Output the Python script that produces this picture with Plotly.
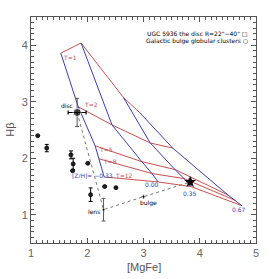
import plotly.graph_objects as go

# ---- data ----
ages = ["T=1", "T=2", "T=5", "T=8", "T=12"]
metals = ["-0.33", "0.00", "0.35", "0.67"]
# model grid: rows = metallicity, cols = age
grid_mgfe = [
    [1.53, 1.84, 2.14, 2.21, 2.30],
    [1.89, 2.44, 2.97, 3.15, 3.26],
    [2.64, 3.12, 3.56, 3.72, 3.84],
    [2.94, 3.52, 4.50, 4.64, 4.75],
]
grid_hb = [
    [3.86, 2.91, 2.22, 1.99, 1.67],
    [4.04, 2.59, 1.94, 1.73, 1.58],
    [3.08, 2.27, 1.80, 1.64, 1.50],
    [2.80, 2.18, 1.35, 1.25, 1.16],
]

gc_mgfe = [1.12, 1.28, 1.71, 1.75, 1.74, 2.01, 2.06, 2.31, 2.51]
gc_hb = [2.40, 2.18, 2.06, 1.90, 1.78, 1.91, 1.355, 1.50, 1.48]
gc_hb_err = [0.0, 0.065, 0.07, 0.10, 0.0, 0.0, 0.12, 0.0, 0.0]

comp_names = ["disc", "lens", "bulge"]
comp_mgfe = [1.82, 2.29, 3.00]
comp_hb = [2.81, 1.09, 1.32]
comp_mgfe_err = [0.16, 0.0, 0.0]
comp_hb_err = [0.25, 0.20, 0.0]

star_mgfe = [3.83]
star_hb = [1.58]
star_hb_err = [0.05]

RED = "#c8504f"
BLUE = "#3c3cb4"

fig = go.Figure()

# age lines (red)
for j, a in enumerate(ages):
    fig.add_trace(go.Scatter(x=[grid_mgfe[i][j] for i in range(len(metals))],
                             y=[grid_hb[i][j] for i in range(len(metals))],
                             mode="lines", line=dict(color=RED, width=1),
                             showlegend=False, hoverinfo="skip"))
# metallicity lines (blue)
for i, m in enumerate(metals):
    fig.add_trace(go.Scatter(x=grid_mgfe[i], y=grid_hb[i], mode="lines",
                             line=dict(color=BLUE, width=1),
                             showlegend=False, hoverinfo="skip"))

# connecting dotted line disc -> lens -> bulge -> star
fig.add_trace(go.Scatter(x=comp_mgfe + star_mgfe, y=comp_hb + star_hb, mode="lines",
                         line=dict(color="#777777", width=1, dash="dot"),
                         showlegend=False, hoverinfo="skip"))

# globular clusters
fig.add_trace(go.Scatter(x=gc_mgfe, y=gc_hb, mode="markers",
                         marker=dict(symbol="circle", size=4, color="#222222",
                                     line=dict(color="#000000", width=0.8)),
                         error_y=dict(type="data", array=gc_hb_err, color="#000000",
                                      thickness=1, width=2),
                         showlegend=False, hoverinfo="skip"))

# disc / lens / bulge
fig.add_trace(go.Scatter(x=comp_mgfe, y=comp_hb, mode="markers",
                         marker=dict(symbol="circle", size=[8, 3, 3], color="#000000"),
                         error_x=dict(type="data", array=comp_mgfe_err, color="#000000",
                                      thickness=1.2, width=2),
                         error_y=dict(type="data", array=comp_hb_err, color="#555555",
                                      thickness=1, width=2),
                         showlegend=False, hoverinfo="skip"))

# star
fig.add_trace(go.Scatter(x=star_mgfe, y=star_hb, mode="markers",
                         marker=dict(symbol="star", size=9, color="#000000"),
                         error_y=dict(type="data", array=star_hb_err, color="#000000",
                                      thickness=1, width=2),
                         showlegend=False, hoverinfo="skip"))

FS = 6
# age labels
age_lab_x = [1.69, 2.06, 2.34, 2.41, 2.66]
age_lab_y = [3.78, 2.96, 2.16, 1.94, 1.70]
for t, x, y in zip(ages, age_lab_x, age_lab_y):
    fig.add_annotation(x=x, y=y, text=t, showarrow=False,
                       font=dict(size=FS, color=RED, family="DejaVu Sans"))
# metallicity labels
met_lab_x = [2.10, 3.15, 3.83, 4.70]
met_lab_y = [1.69, 1.54, 1.37, 1.09]
met_lab_t = ["[Z/H]= \u22120.33", "0.00", "0.35", "0.67"]
for t, x, y in zip(met_lab_t, met_lab_x, met_lab_y):
    fig.add_annotation(x=x, y=y, text=t, showarrow=False,
                       font=dict(size=FS, color=BLUE, family="DejaVu Sans"))
# component labels
comp_lab_x = [1.64, 2.12, 3.08]
comp_lab_y = [2.93, 1.05, 1.21]
for t, x, y in zip(comp_names, comp_lab_x, comp_lab_y):
    fig.add_annotation(x=x, y=y, text=t, showarrow=False,
                       font=dict(size=FS, color="#000000", family="DejaVu Sans"))

# legend text
fig.add_annotation(xref="paper", yref="paper", x=0.975, y=0.95, xanchor="right",
                   text="UGC 5936 the disc R=22\"\u221240\" \u25a1", showarrow=False,
                   font=dict(size=FS, color="#000000", family="DejaVu Sans"))
fig.add_annotation(xref="paper", yref="paper", x=0.975, y=0.92, xanchor="right",
                   text="Galactic bulge globular clusters \u25cb", showarrow=False,
                   font=dict(size=FS, color="#000000", family="DejaVu Sans"))

# axis titles
fig.add_annotation(xref="paper", yref="paper", x=0.5, y=-0.105, yanchor="middle",
                   text="[MgFe]", showarrow=False,
                   font=dict(size=11, color="#555555", family="Liberation Sans"))
fig.add_annotation(xref="paper", yref="paper", x=-0.095, y=0.5, xanchor="center",
                   textangle=-90, text="H\u03b2", showarrow=False,
                   font=dict(size=11, color="#555555", family="Liberation Sans"))

axis_common = dict(showgrid=False, zeroline=False, showline=True, linecolor="#555555",
                   linewidth=1, mirror="ticks", ticks="inside", ticklen=5,
                   tickcolor="#555555", automargin=False,
                   tickfont=dict(size=11, color="#666666", family="Liberation Sans"),
                   minor=dict(dtick=0.1, ticks="inside", ticklen=3, tickcolor="#555555"))

fig.update_xaxes(range=[1, 5], dtick=1, **axis_common)
fig.update_yaxes(range=[0.5, 4.5], dtick=1, **axis_common)

fig.update_layout(width=274, height=279, margin=dict(l=31, r=18, t=17, b=36),
                  paper_bgcolor="white", plot_bgcolor="white", showlegend=False)

fig.write_html("out.html", config={"displayModeBar": False},
               post_script="document.body.style.margin='0px';")
